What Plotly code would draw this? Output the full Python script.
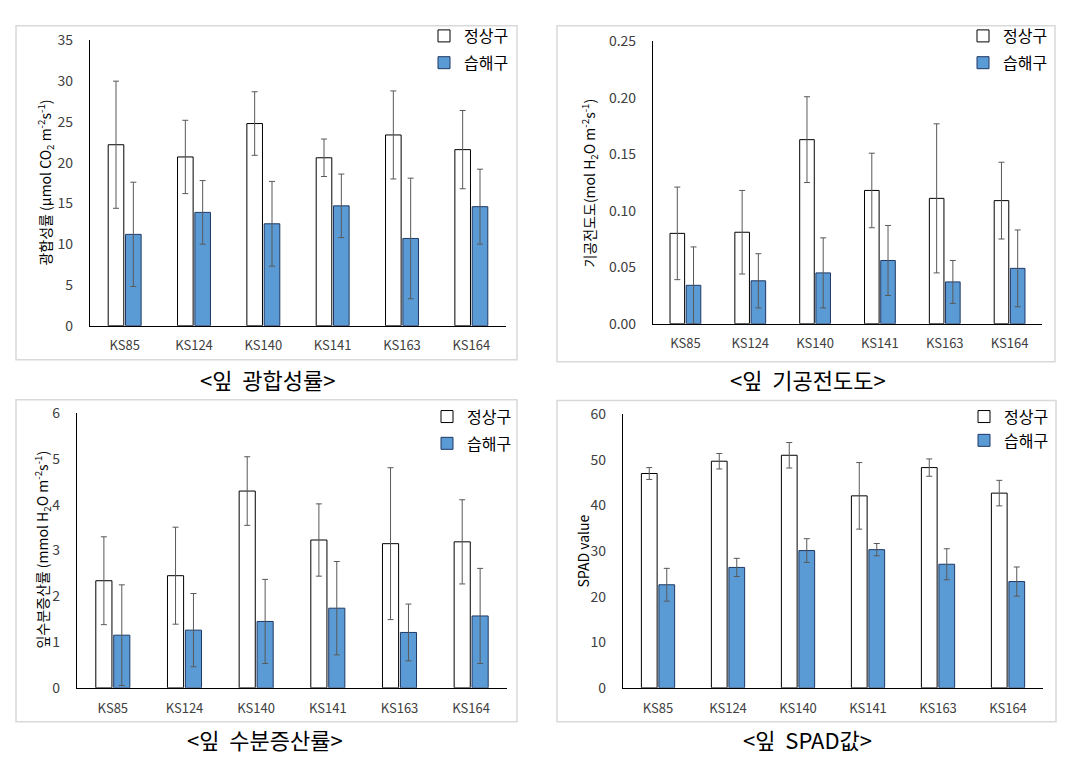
import plotly.graph_objects as go

# page is rendered with an 8px body margin; figure sized to fit the window
OFF = 8
W, H = 1083 - OFF, 763 - OFF


def fx(px):
    return (px - OFF) / W


def fy(py):
    return 1 - (py - OFF) / H


categories = ["KS85", "KS124", "KS140", "KS141", "KS163", "KS164"]

# Panel 1: leaf photosynthesis rate
photo_normal = [22.2, 20.7, 24.8, 20.6, 23.4, 21.6]
photo_normal_err = [7.8, 4.5, 3.9, 2.3, 5.4, 4.8]
photo_wet = [11.2, 13.9, 12.5, 14.7, 10.7, 14.6]
photo_wet_err = [6.4, 3.9, 5.2, 3.9, 7.4, 4.6]

# Panel 2: stomatal conductance
cond_normal = [0.080, 0.081, 0.163, 0.118, 0.111, 0.109]
cond_normal_err = [0.041, 0.037, 0.038, 0.033, 0.066, 0.034]
cond_wet = [0.034, 0.038, 0.045, 0.056, 0.037, 0.049]
cond_wet_err = [0.034, 0.024, 0.031, 0.031, 0.019, 0.034]

# Panel 3: transpiration rate
trans_normal = [2.34, 2.45, 4.30, 3.23, 3.15, 3.19]
trans_normal_err = [0.96, 1.06, 0.75, 0.79, 1.66, 0.92]
trans_wet = [1.15, 1.26, 1.45, 1.74, 1.21, 1.57]
trans_wet_err = [1.10, 0.80, 0.92, 1.02, 0.62, 1.04]

# Panel 4: SPAD value
spad_normal = [47.0, 49.7, 51.0, 42.1, 48.3, 42.7]
spad_normal_err = [1.3, 1.7, 2.8, 7.3, 1.9, 2.8]
spad_wet = [22.6, 26.4, 30.1, 30.3, 27.1, 23.3]
spad_wet_err = [3.6, 2.0, 2.6, 1.35, 3.4, 3.2]

series_names = ["정상구", "습해구"]
y_ranges = [[0, 35], [0, 0.25], [0, 6], [0, 60]]
y_dticks = [5, 0.05, 1, 10]
y_formats = ["", ".2f", "", ""]
y_titles = [
    "광합성률 (μmol CO<sub>2</sub> m<sup>-2</sup>s<sup>-1</sup>)",
    "기공전도도(mol H<sub>2</sub>O m<sup>-2</sup>s<sup>-1</sup>)",
    "잎수분증산률 (mmol H<sub>2</sub>O m<sup>-2</sup>s<sup>-1</sup>)",
    "SPAD value",
]
captions = ["<잎  광합성률>", "<잎  기공전도도>", "<잎  수분증산률>", "<잎  SPAD값>"]

panels = [
    (photo_normal, photo_normal_err, photo_wet, photo_wet_err),
    (cond_normal, cond_normal_err, cond_wet, cond_wet_err),
    (trans_normal, trans_normal_err, trans_wet, trans_wet_err),
    (spad_normal, spad_normal_err, spad_wet, spad_wet_err),
]

# layout geometry in page pixels: (x0, x1, y_zero, y_top)
plot_px = [(90, 506, 323, 30), (653, 1042, 321, 31), (77, 507, 695, 413), (623, 1043, 695, 414)]
border_px = [(16, 15, 517, 358), (557, 15, 1055, 360), (16, 399, 517, 730), (557, 400, 1056, 730)]
ytitle_px = [(46, 176), (590, 177), (43, 553), (583, 555)]
caption_px = [(267, 378), (808, 378), (265, 748), (807, 748)]
legend_px = [(514, 8), (1053, 8), (517, 399), (1054, 399)]

NORMAL_FILL = "#FFFFFF"
WET_FILL = "#5B9BD5"
FONT = "Noto Sans CJK KR"

fig = go.Figure()
layout = dict(
    width=W, height=H, margin=dict(l=0, r=0, t=0, b=0),
    paper_bgcolor="white", plot_bgcolor="white",
    barmode="group", bargap=0.5, bargroupgap=0.1,
    font=dict(family=FONT, color="#404040", size=13),
    shapes=[], annotations=[],
)

for i, (n, ne, w, we) in enumerate(panels):
    k = "" if i == 0 else str(i + 1)
    xa, ya = "x" + k, "y" + k
    lg = "legend" + k
    err_style = dict(type="data", thickness=1, width=3, color="#595959")
    fig.add_trace(go.Bar(
        x=categories, y=n, name=series_names[0], xaxis=xa, yaxis=ya, legend=lg,
        legendgroup="a" + k, offsetgroup="a",
        marker=dict(color=NORMAL_FILL, line=dict(color="#000000", width=1)),
        error_y=dict(array=ne, **err_style),
    ))
    fig.add_trace(go.Bar(
        x=categories, y=w, name=series_names[1], xaxis=xa, yaxis=ya, legend=lg,
        legendgroup="b" + k, offsetgroup="b",
        marker=dict(color=WET_FILL, line=dict(color="#1F3864", width=1)),
        error_y=dict(array=we, **err_style),
    ))
    x0, x1, yz, yt = plot_px[i]
    layout["xaxis" + k] = dict(
        domain=[fx(x0), fx(x1)], anchor=ya, showline=True, linecolor="#000000",
        linewidth=1.2, showgrid=False, ticks="", ticklabelstandoff=8,
        tickfont=dict(size=13, color="#404040"), fixedrange=True,
    )
    layout["yaxis" + k] = dict(
        domain=[fy(yz), fy(yt)], anchor=xa, range=y_ranges[i],
        dtick=y_dticks[i], tickformat=y_formats[i], showline=True,
        linecolor="#000000", linewidth=1.2, showgrid=False, zeroline=False,
        ticks="", ticklabelstandoff=13, tickfont=dict(size=14, color="#404040"),
    )
    bx0, by0, bx1, by1 = border_px[i]
    layout["shapes"].append(dict(
        type="rect", xref="paper", yref="paper",
        x0=fx(bx0), x1=fx(bx1), y0=fy(by1), y1=fy(by0),
        line=dict(color="#D9D9D9", width=1.5), fillcolor="rgba(0,0,0,0)", layer="below",
    ))
    tx, ty = ytitle_px[i]
    layout["annotations"].append(dict(
        text=y_titles[i], x=fx(tx), y=fy(ty), xref="paper", yref="paper",
        showarrow=False, textangle=-90, font=dict(size=14, color="#000000", family=FONT),
        xanchor="center", yanchor="middle",
    ))
    cx, cy = caption_px[i]
    layout["annotations"].append(dict(
        text=captions[i], x=fx(cx), y=fy(cy), xref="paper", yref="paper",
        showarrow=False, font=dict(size=22, color="#000000", family=FONT),
        xanchor="center", yanchor="middle",
    ))
    lx, ly = legend_px[i]
    layout[lg] = dict(
        x=fx(lx), y=fy(ly), xanchor="right", yanchor="top",
        xref="paper", yref="paper", bgcolor="rgba(0,0,0,0)",
        font=dict(size=16, color="#000000", family=FONT),
        itemwidth=30, tracegroupgap=3 if i < 3 else 0,
    )

fig.update_layout(**layout)
fig.write_html("out.html")
